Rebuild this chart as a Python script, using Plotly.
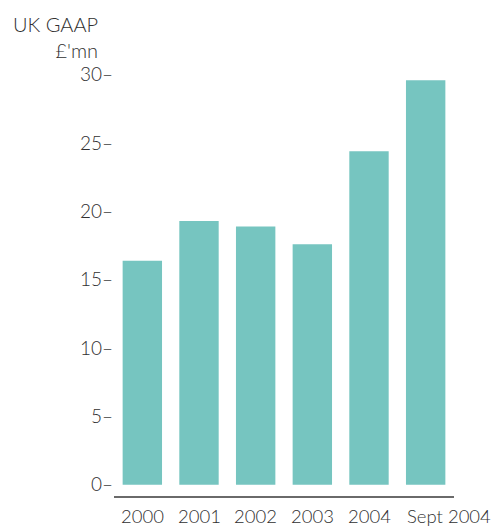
import plotly.graph_objects as go

# Profit figures, UK GAAP, £ million
categories = ["2000", "2001", "2002", "2003", "2004", "Sept 2004"]
values = [16.4, 19.3, 18.9, 17.6, 24.4, 29.6]
tick_vals = [0, 5, 10, 15, 20, 25, 30]
tick_text = [f"{v}–" for v in tick_vals]

BAR = "#76C5C0"
TEXT = "#303030"
FONT = "Lato"
FS = 19

fig = go.Figure(
    go.Bar(
        x=list(range(len(categories))),
        y=values,
        marker=dict(color=BAR, line=dict(width=0)),
        hoverinfo="skip",
    )
)

fig.update_layout(
    width=500,
    height=526,
    margin=dict(l=114, r=46, t=60, b=30),
    paper_bgcolor="white",
    plot_bgcolor="white",
    bargap=0.305,
    showlegend=False,
    font=dict(family=FONT, size=FS, color=TEXT, weight=300),
)

fig.update_xaxes(
    range=[-0.5, 5.5],
    showticklabels=False,
    showgrid=False,
    zeroline=False,
    showline=True,
    linecolor="#6a6a6a",
    linewidth=1.5,
    ticks="",
)

fig.update_yaxes(
    range=[-0.82, 31.08],
    tickvals=tick_vals,
    ticktext=tick_text,
    showgrid=False,
    zeroline=False,
    showline=False,
    ticks="",
    ticklabelstandoff=0,
    tickfont=dict(family=FONT, size=FS, color=TEXT, weight=300),
)

# Category labels under the axis line; the last one starts at its bar's left edge
for i, cat in enumerate(categories):
    last = i == len(categories) - 1
    fig.add_annotation(
        x=i - 0.35 if last else i,
        y=0,
        xref="x",
        yref="paper",
        text=cat,
        showarrow=False,
        xanchor="left" if last else "center",
        yanchor="middle",
        yshift=-20,
        borderpad=0,
        font=dict(family=FONT, size=18.5, color=TEXT, weight=300),
    )

# Axis heading
fig.add_annotation(
    x=-0.04,
    y=1.115,
    xref="paper",
    yref="paper",
    text="UK GAAP<br>£'mn",
    showarrow=False,
    xanchor="right",
    yanchor="top",
    align="right",
    font=dict(family=FONT, size=20, color=TEXT, weight=300),
)

fig.write_html("out.html")
